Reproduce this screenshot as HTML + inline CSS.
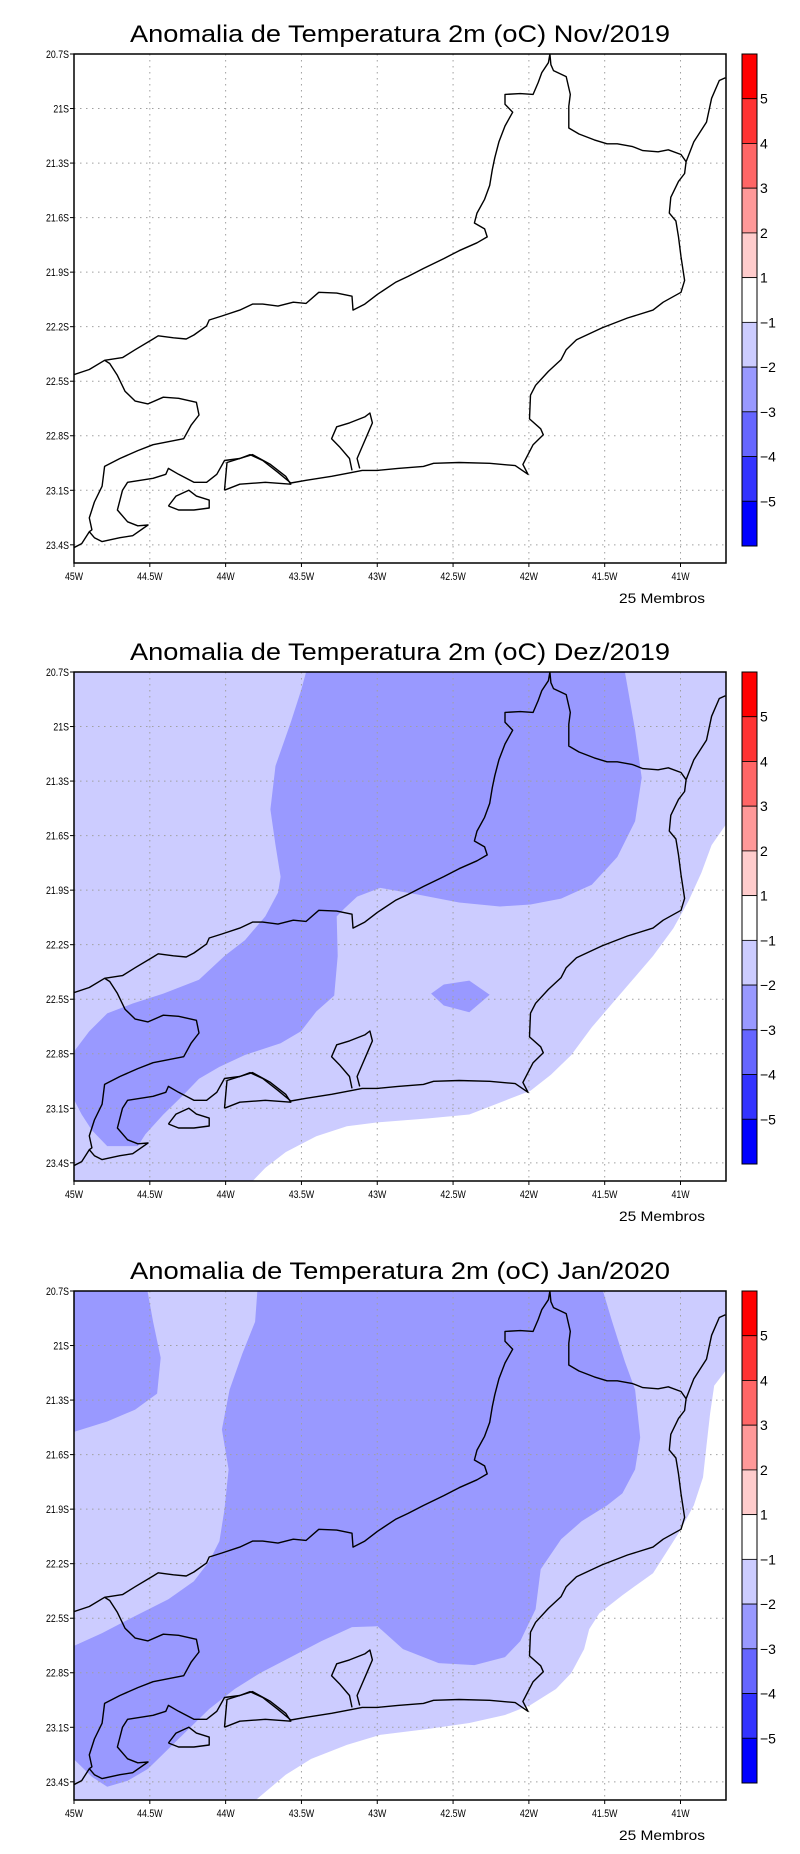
<!DOCTYPE html>
<html><head><meta charset="utf-8">
<style>
html,body{margin:0;padding:0;background:#fff;}
svg{display:block;}
text{font-family:"Liberation Sans",sans-serif;fill:#000;}
</style></head>
<body>
<svg id="root" width="800" height="1854" viewBox="0 0 800 1854"></svg>
<script>
// ---- data ----
const titles = ["Anomalia de Temperatura 2m (oC) Nov/2019","Anomalia de Temperatura 2m (oC) Dez/2019","Anomalia de Temperatura 2m (oC) Jan/2020"];
const panelTops = [54, 672, 1291];
const lonTicks = [-45,-44.5,-44,-43.5,-43,-42.5,-42,-41.5,-41];
const lonLabels = ["45W","44.5W","44W","43.5W","43W","42.5W","42W","41.5W","41W"];
const latTicks = [20.7,21,21.3,21.6,21.9,22.2,22.5,22.8,23.1,23.4];
const latLabels = ["20.7S","21S","21.3S","21.6S","21.9S","22.2S","22.5S","22.8S","23.1S","23.4S"];
const cbColors = ["#ff0000","#ff3333","#ff6666","#ff9999","#ffcccc","#ffffff","#ccccff","#9999ff","#6666ff","#3333ff","#0000ff"];
const cbLabels = ["5","4","3","2","1","\u22121","\u22122","\u22123","\u22124","\u22125"];
// digitized contour polygons (digitizer units; converted to lon/lat below)
const decDark1 = [[600,183],[1225,183],[1245,330],[1258,450],[1245,560],[1210,650],[1160,720],[1100,755],[1040,770],[980,775],[900,765],[820,745],[745,728],[700,750],[675,780],[660,800],[662,900],[655,1000],[620,1040],[590,1090],[550,1120],[480,1150],[430,1180],[390,1210],[360,1250],[320,1300],[285,1350],[270,1380],[210,1380],[180,1340],[160,1300],[140,1250],[140,1150],[175,1090],[210,1045],[260,1020],[320,995],[390,960],[440,900],[480,860],[520,800],[545,740],[550,700],[540,620],[530,530],[540,420],[570,310],[590,230]];
const decDark2 = [[845,995],[870,972],[920,962],[960,998],[920,1042],[870,1025]];
const decWhite = [[1430,555],[1395,620],[1375,690],[1350,760],[1320,830],[1280,900],[1240,960],[1200,1020],[1160,1080],[1120,1150],[1080,1200],[1040,1240],[990,1265],[920,1300],[840,1310],[740,1320],[680,1330],[620,1355],[560,1395],[520,1435],[490,1475],[1430,1475]];
const janDarkNW = [[140,145],[288,145],[300,230],[315,320],[308,410],[265,450],[210,480],[140,508]];
const janDark = [[505,145],[1180,145],[1200,230],[1225,330],[1245,400],[1255,520],[1245,600],[1220,660],[1190,690],[1140,730],[1100,775],[1060,850],[1050,950],[1020,1030],[990,1070],[930,1090],[860,1085],[790,1050],[740,993],[690,995],[630,1030],[570,1070],[510,1110],[460,1150],[410,1200],[370,1250],[330,1300],[290,1350],[250,1380],[210,1395],[180,1370],[140,1320],[140,1045],[200,1010],[260,970],[330,925],[380,880],[410,830],[430,780],[440,700],[448,600],[435,500],[450,400],[475,310],[500,230]];
const janWhite = [[1430,340],[1400,390],[1392,460],[1385,540],[1378,620],[1360,690],[1330,760],[1280,860],[1220,915],[1175,960],[1155,1000],[1145,1050],[1120,1110],[1090,1150],[1040,1190],[990,1215],[920,1235],[840,1250],[745,1265],[680,1290],[610,1325],[560,1365],[495,1435],[1430,1435]];
// digitized outline (digitizer units, frame of panel 1)
const border = [[145,948],[175,935],[205,912],[240,905],[265,885],[300,858],[310,850],[340,855],[365,858],[380,848],[405,825],[410,810],[435,800],[470,785],[495,770],[515,770],[545,775],[575,765],[600,768],[625,740],[660,742],[690,750],[692,785],[715,770],[740,745],[775,715],[800,700],[830,680],[870,655],[900,635],[935,615],[955,600],[950,580],[930,565],[935,540],[950,505],[960,470],[965,430],[970,400],[978,360],[990,320],[1005,285],[990,265],[990,240],[1020,238],[1045,240],[1055,210],[1062,185],[1075,160],[1078,138],[1080,165],[1085,180],[1110,195],[1118,240],[1115,270],[1115,325],[1135,340],[1165,355],[1190,365],[1210,365],[1240,372],[1260,382],[1290,385],[1310,380],[1335,392],[1345,410]];
const coastN = [[1345,410],[1360,360],[1385,310],[1395,250],[1410,205],[1422,198]];
const coastS = [[1345,410],[1342,440],[1330,460],[1315,500],[1312,540],[1325,560],[1330,600],[1335,650],[1342,710],[1335,740],[1300,765],[1280,785],[1230,805],[1180,830],[1130,860],[1110,885],[1100,910],[1075,940],[1050,975],[1040,1000],[1038,1060],[1060,1085],[1065,1100],[1045,1125],[1035,1150],[1025,1175],[1035,1200],[1010,1178],[960,1172],[900,1170],[850,1172],[830,1180],[780,1185],[740,1190],[710,1190],[690,1195],[650,1205],[600,1215],[570,1222],[545,1195],[515,1165],[490,1150],[470,1160],[440,1165],[425,1200],[405,1220],[380,1220],[350,1200],[330,1185],[325,1200],[300,1210],[250,1220],[240,1240],[230,1290],[250,1320],[270,1330],[290,1328],[260,1355],[235,1360],[200,1370],[185,1360],[175,1345],[160,1375],[145,1385]];
const spBorder = [[205,912],[215,920],[230,950],[245,990],[265,1015],[290,1022],[320,1005],[350,1008],[385,1018],[390,1050],[375,1075],[360,1110],[300,1125],[270,1140],[235,1160],[205,1180],[200,1230],[185,1270],[175,1310],[180,1340],[175,1345]];
const guanabara = [[690,1190],[685,1160],[665,1130],[650,1110],[660,1080],[685,1070],[715,1055],[725,1045],[730,1070],[720,1100],[710,1130],[700,1160],[705,1185]];
const sepetiba = [[440,1240],[445,1170],[470,1160],[495,1150],[530,1175],[560,1205],[570,1225],[520,1220],[470,1225],[440,1240]];
const ilhaGrande = [[330,1280],[345,1255],[370,1240],[385,1255],[410,1265],[410,1285],[380,1290],[350,1290],[330,1280]];

// ---- axes ----
const PL=74, PR=726, PH=509, LON0=-45, LON1=-40.7, LAT0=20.7, LAT1=23.5;
const xS = lon => PL + (lon-LON0)/(LON1-LON0)*(PR-PL);
const yS = lat => (lat-LAT0)/(LAT1-LAT0)*PH;
// digitizer -> lon/lat (panel-1 frame & panel-specific frames)
function toLL(p, top, bottom){ return [LON0 + (p[0]-145)/297.25, LAT0 + (p[1]-top)/(bottom-top)*(LAT1-LAT0)]; }
const NS="http://www.w3.org/2000/svg";
function el(tag, attrs, parent){ const e=document.createElementNS(NS,tag); for(const k in attrs) e.setAttribute(k,attrs[k]); parent.appendChild(e); return e; }
function pts(arr, top, bottom){ return arr.map(p=>{const ll=toLL(p,top,bottom); return xS(ll[0]).toFixed(1)+","+yS(ll[1]).toFixed(1);}).join(" "); }
const root=document.getElementById('root');

const fills = [
  [],
  [{d:decDark1,c:"#9999ff",n:"contour-minus2-minus3"},{d:decDark2,c:"#9999ff",n:"contour-minus2-minus3-small"},{d:decWhite,c:"#ffffff",n:"contour-above-minus1"}],
  [{d:janDarkNW,c:"#9999ff",n:"contour-minus2-minus3-nw"},{d:janDark,c:"#9999ff",n:"contour-minus2-minus3"},{d:janWhite,c:"#ffffff",n:"contour-above-minus1"}]
];
const frames = [[138,1424],[183,1468],[153,1428]];
const bgColors = ["#ffffff","#ccccff","#ccccff"];

panelTops.forEach((top,i)=>{
  const g=el('g',{transform:`translate(0,${top})`},root);
  
  
  const cp=el('clipPath',{id:'clip'+i},g);
  el('rect',{x:PL,y:0,width:PR-PL,height:PH},cp);
  const t=el('text',{x:400,y:-12,'text-anchor':'middle','font-size':24,textLength:540,lengthAdjust:'spacingAndGlyphs'},g);
  t.textContent=titles[i];
  
  
  const bg=el('rect',{x:PL,y:0,width:PR-PL,height:PH,fill:bgColors[i]},g);
  
  
  const fg=el('g',{'clip-path':`url(#clip${i})`},g);
  fills[i].forEach(f=>{
    const p=el('polygon',{points:pts(f.d,frames[i][0],frames[i][1]),fill:f.c},fg);
    
    
  });
  // grid
  const gg=el('g',{stroke:'#a0a0a0','stroke-width':1,'stroke-dasharray':'1.5,4.5'},g);
  
  
  lonTicks.slice(1).forEach(l=>el('line',{x1:xS(l),x2:xS(l),y1:0,y2:PH},gg));
  latTicks.slice(1).forEach(l=>el('line',{x1:PL,x2:PR,y1:yS(l),y2:yS(l)},gg));
  // outlines
  const og=el('g',{fill:'none',stroke:'#000','stroke-width':1.4,'stroke-linejoin':'round','clip-path':`url(#clip${i})`},g);
  
  
  [border,coastN,coastS,spBorder,guanabara,sepetiba,ilhaGrande].forEach(a=>{
    el('polyline',{points:pts(a,138,1424)},og);
  });
  // frame
  const fr=el('rect',{x:PL,y:0,width:PR-PL,height:PH,fill:'none',stroke:'#000','stroke-width':1.5},g);
  
  
  // ticks & labels
  lonTicks.forEach((l,k)=>{
    el('line',{x1:xS(l),x2:xS(l),y1:PH,y2:PH+4,stroke:'#000'},g);
    const tx=el('text',{x:xS(l),y:PH+17,'text-anchor':'middle','font-size':11,transform:`translate(${xS(l)},0) scale(0.8,1) translate(${-xS(l)},0)`},g);
    tx.textContent=lonLabels[k];
    
    
  });
  latTicks.forEach((l,k)=>{
    el('line',{x1:PL-4,x2:PL,y1:yS(l),y2:yS(l),stroke:'#000'},g);
    const tx=el('text',{x:PL-5,y:yS(l)+4,'text-anchor':'end','font-size':11,transform:`translate(${PL-5},0) scale(0.8,1) translate(${-(PL-5)},0)`},g);
    tx.textContent=latLabels[k];
    
    
  });
  const mb=el('text',{x:705,y:PH+40,'text-anchor':'end','font-size':14,textLength:86,lengthAdjust:'spacingAndGlyphs'},g);
  mb.textContent="25 Membros";
  
  
  // colorbar
  const cb=el('g',{},g);
  
  
  const segH=492/cbColors.length;
  cbColors.forEach((c,k)=>{
    const r=el('rect',{x:742,y:k*segH,width:15,height:segH,fill:c,stroke:'#000','stroke-width':0.8},cb);
    
    
  });
  el('rect',{x:742,y:0,width:15,height:492,fill:'none',stroke:'#000','stroke-width':1},cb);
  cbLabels.forEach((s,k)=>{
    const tx=el('text',{x:760,y:(k+1)*segH+5,'font-size':14},cb);
    tx.textContent=s;
    
    
  });
});
</script>
</body></html>
